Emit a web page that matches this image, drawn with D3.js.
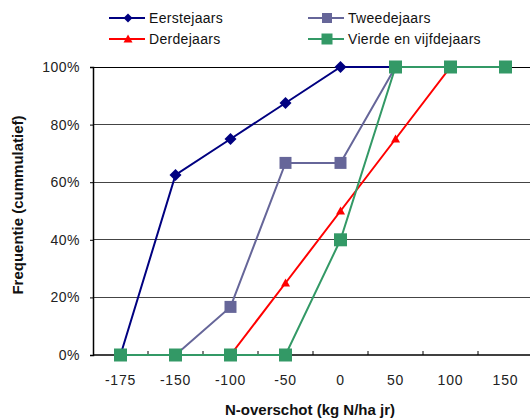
<!DOCTYPE html>
<html>
<head>
<meta charset="utf-8">
<script src="https://cdn.jsdelivr.net/npm/d3@7"></script>
<style>
  html, body { margin: 0; padding: 0; background: #fff; }
  svg { display: block; font-family: "Liberation Sans", Arial, sans-serif; }
</style>
</head>
<body>
<svg id="chart" width="530" height="419"></svg>
<script>
// N-overschot classes (kg N/ha jr)
const categories = ["-175", "-150", "-100", "-50", "0", "50", "100", "150"];
// Cumulative frequency per year group (%)
const eerstejaars = [0, 62.5, 75, 87.5, 100, 100, 100, 100];
const tweedejaars = [0, 0, 16.7, 66.7, 66.7, 100, 100, 100];
const derdejaars  = [0, 0, 0, 25, 50, 75, 100, 100];
const vierdejaars = [0, 0, 0, 0, 40, 100, 100, 100];
const yTicks = [0, 20, 40, 60, 80, 100];

const series = [
  { name: "Eerstejaars", values: eerstejaars, color: "#000080", marker: "diamond", size: 12, lsize: 9 },
  { name: "Tweedejaars", values: tweedejaars, color: "#666699", marker: "square", size: 12, lsize: 10 },
  { name: "Derdejaars", values: derdejaars, color: "#ff0000", marker: "triangle", size: 9, lsize: 9 },
  { name: "Vierde en vijfdejaars", values: vierdejaars, color: "#339966", marker: "square", size: 13, lsize: 11 }
];

const svg = d3.select("#chart");
const plot = { left: 93, right: 533, top: 67, bottom: 355 };

const x = d3.scaleBand().domain(categories).range([plot.left, plot.right]).padding(0);
const cx = d => x(d) + x.bandwidth() / 2;
const y = d3.scaleLinear().domain([0, 100]).range([plot.bottom, plot.top]);

// marker shapes, centred at the origin
function markerPath(type, s) {
  const h = s / 2;
  if (type === "diamond") return `M0,${-h}L${h},0L0,${h}L${-h},0Z`;
  if (type === "square") return `M${-h},${-h}H${h}V${h}H${-h}Z`;
  const t = s * 0.5;
  return `M0,${-t}L${h},${t * 0.8}L${-h},${t * 0.8}Z`;
}

// horizontal gridlines
svg.append("g").selectAll("line").data(yTicks.filter(v => v > 0)).join("line")
  .attr("x1", plot.left).attr("x2", plot.right)
  .attr("y1", d => y(d)).attr("y2", d => y(d))
  .attr("stroke", d => d === 100 ? "#000" : "#444").attr("stroke-width", 1)
  .attr("shape-rendering", "crispEdges");

// y axis
const yAxis = d3.axisLeft(y).tickValues(yTicks).tickSize(3).tickFormat(d => d + "%");
const gy = svg.append("g").attr("transform", `translate(${plot.left},0)`).call(yAxis);
gy.select(".domain").attr("stroke", "#000").attr("stroke-width", 1.5);
gy.selectAll(".tick line").attr("stroke", "#000");
gy.selectAll("text").attr("font-size", 14).attr("fill", "#222").attr("x", -13)
  .attr("font-family", "Liberation Sans, Arial, sans-serif").attr("letter-spacing", 0.5);

// x axis: ticks at class boundaries, pointing inward
svg.append("line").attr("x1", plot.left).attr("x2", plot.right)
  .attr("y1", plot.bottom).attr("y2", plot.bottom)
  .attr("stroke", "#000").attr("stroke-width", 1.5);
svg.append("g").selectAll("line").data(categories.slice(1)).join("line")
  .attr("x1", d => x(d)).attr("x2", d => x(d))
  .attr("y1", plot.bottom).attr("y2", plot.bottom - 4)
  .attr("stroke", "#000").attr("stroke-width", 1);
svg.append("g").selectAll("text").data(categories).join("text")
  .attr("x", d => cx(d)).attr("y", 385)
  .attr("text-anchor", "middle").attr("font-size", 14).attr("fill", "#222")
  .attr("letter-spacing", 0.8)
  .text(d => d);

// axis titles
svg.append("text").attr("x", 310).attr("y", 415).attr("text-anchor", "middle")
  .attr("font-size", 15).attr("font-weight", "bold").attr("fill", "#111")
  .text("N-overschot (kg N/ha jr)");
svg.append("text").attr("transform", "translate(23,205) rotate(-90)").attr("text-anchor", "middle")
  .attr("font-size", 15).attr("font-weight", "bold").attr("fill", "#111")
  .text("Frequentie (cummulatief)");

// series lines
const line = d3.line().x((d, i) => cx(categories[i])).y(d => y(d));
series.forEach(s => {
  svg.append("path").datum(s.values).attr("d", line)
    .attr("fill", "none").attr("stroke", s.color).attr("stroke-width", 2);
});
// series markers
series.forEach(s => {
  svg.append("g").selectAll("path").data(s.values).join("path")
    .attr("transform", (d, i) => `translate(${cx(categories[i])},${y(d)})`)
    .attr("d", markerPath(s.marker, s.size))
    .attr("fill", s.color);
});

// legend
const legendPos = [[109, 18], [308, 18], [109, 39], [308, 39]];
series.forEach((s, i) => {
  const [lx, ly] = legendPos[i];
  const g = svg.append("g").attr("transform", `translate(${lx},${ly})`);
  g.append("line").attr("x1", 0).attr("x2", 36).attr("y1", 0).attr("y2", 0)
    .attr("stroke", s.color).attr("stroke-width", 2);
  g.append("path").attr("transform", "translate(19,0)").attr("d", markerPath(s.marker, s.lsize)).attr("fill", s.color);
  g.append("text").attr("x", 40).attr("y", 5).attr("font-size", 14).attr("fill", "#111")
    .attr("letter-spacing", 0.3).text(s.name);
});
</script>
</body>
</html>
